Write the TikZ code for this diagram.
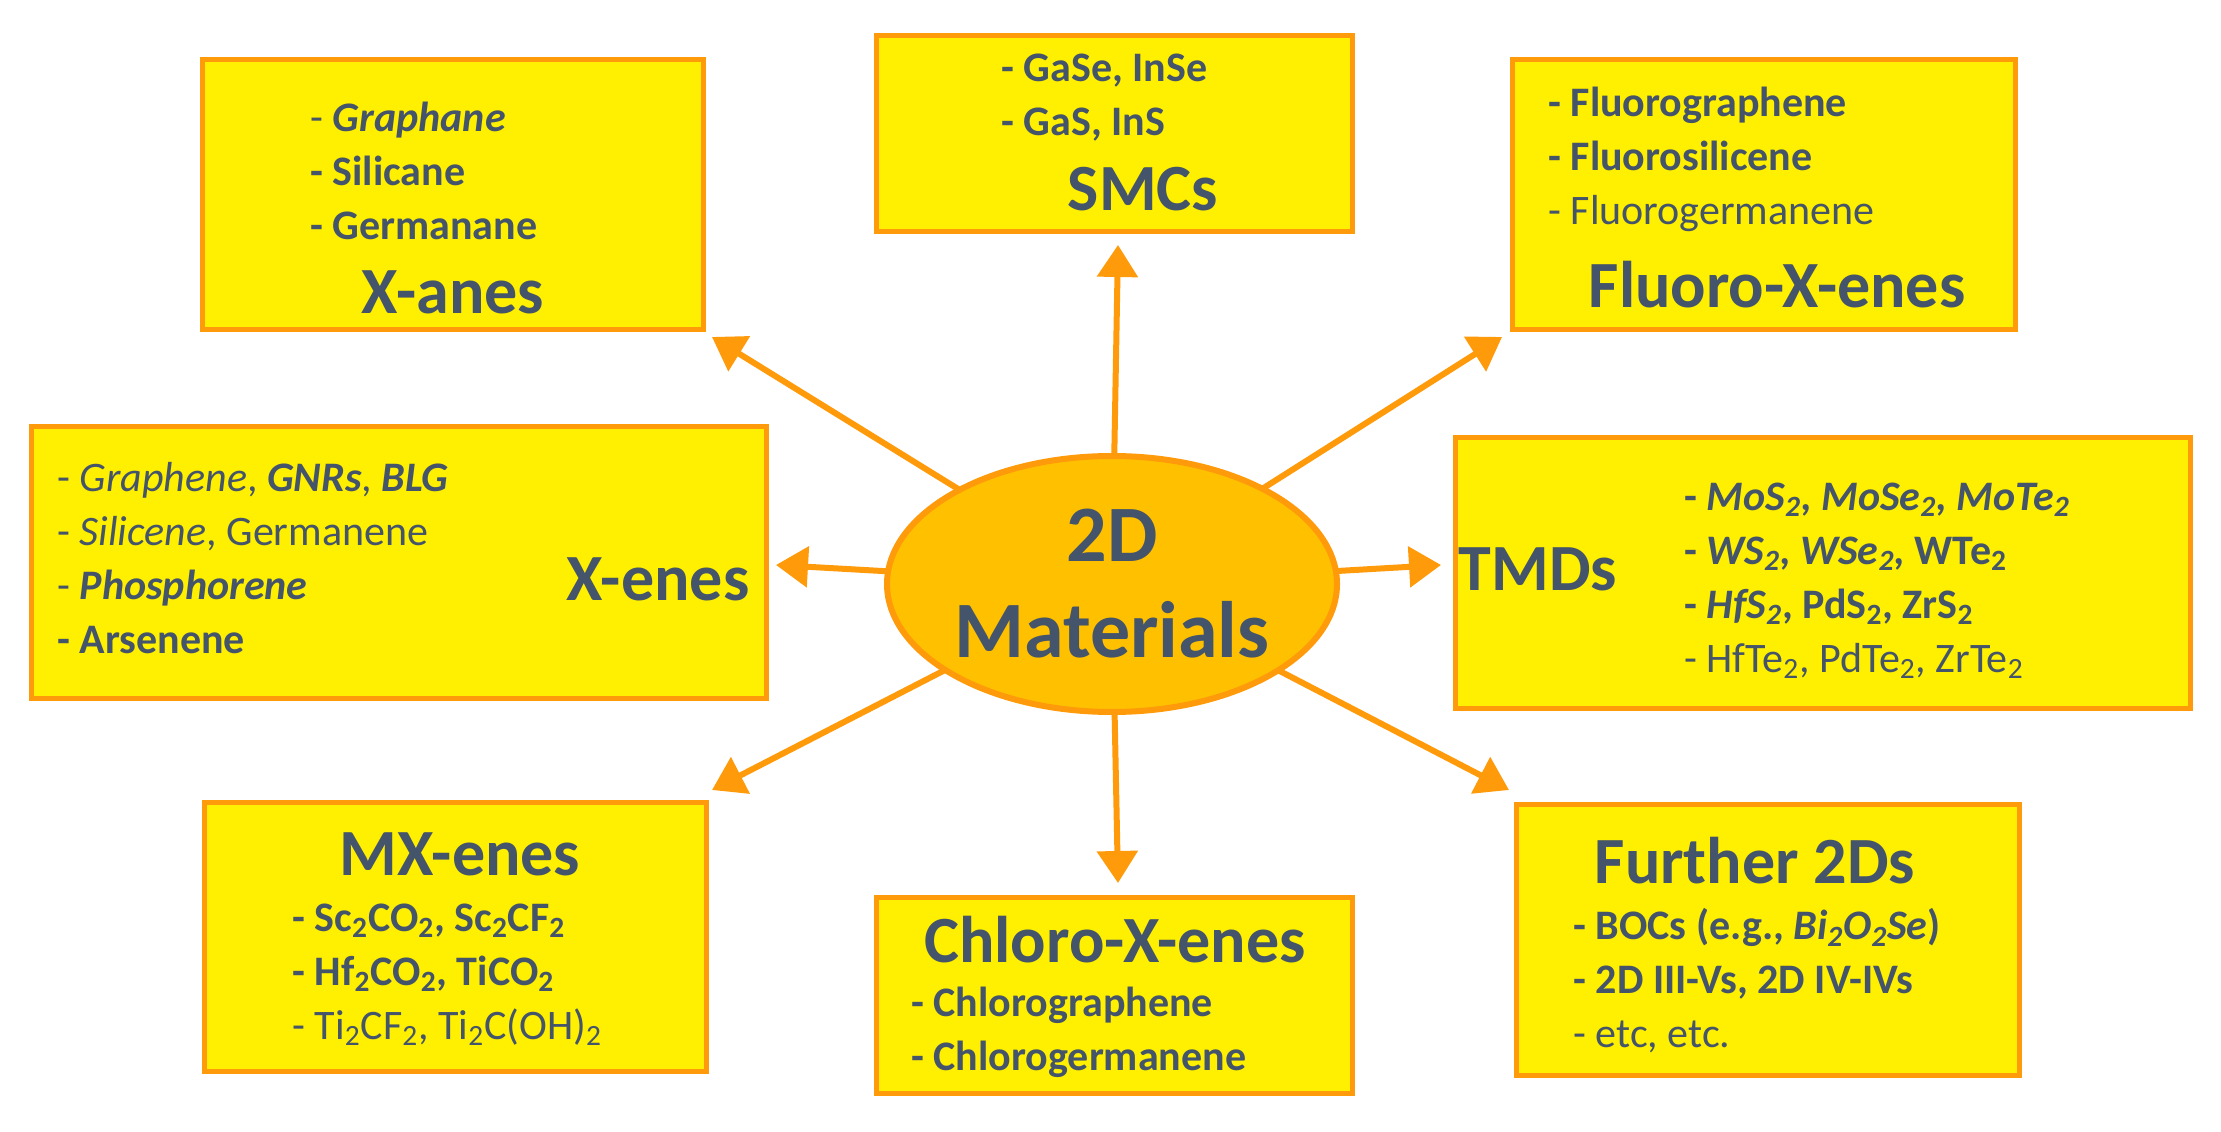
\documentclass[tikz,border=0pt]{standalone}
\usepackage{fontspec}
\setmainfont{Carlito}
\usetikzlibrary{shapes.geometric,arrows.meta}
\definecolor{txt}{HTML}{44546A}
\definecolor{ybox}{HTML}{FFEF00}
\definecolor{obord}{HTML}{FF9A0A}
\definecolor{ell}{HTML}{FFC000}
\tikzset{
 box/.style={draw=obord,fill=ybox,line width=2.5pt},
 arr/.style={draw=obord,line width=3pt,-{Triangle[length=16pt,width=20pt]}},
 lst/.style={anchor=west,align=left,text=txt,inner sep=0pt,font=\fontsize{21}{27}\selectfont},
 ttl/.style={text=txt,inner sep=0pt,font=\fontsize{33}{36}\selectfont\bfseries},
}
\newcommand{\sub}[1]{\textsubscript{#1}}
\begin{document}
\begin{tikzpicture}[x=0.5pt,y=0.5pt]
\useasboundingbox (0,0) rectangle (2221,1131);
% boxes
\draw[box] (202,801) rectangle (703,1071);
\draw[box] (876,899) rectangle (1352,1095);
\draw[box] (1512,801) rectangle (2015,1071);
\draw[box] (31,433) rectangle (766,704);
\draw[box] (1455,423) rectangle (2190,693);
\draw[box] (204,60) rectangle (706,329);
\draw[box] (876,38) rectangle (1352,234);
\draw[box] (1516,56) rectangle (2019,327);
% centre
\coordinate (t1) at (712,794);
\coordinate (t2) at (1118,886);
\coordinate (t3) at (1502,794);
\coordinate (t4) at (776,566);
\coordinate (t5) at (1441,566);
\coordinate (t6) at (712,341);
\coordinate (t7) at (1118,248);
\coordinate (t8) at (1509,341);
\node[ellipse,minimum width=225pt,minimum height=128pt,inner sep=0pt] (c) at (1112,547) {};
\foreach \t in {t1,t2,t3,t4,t5,t6,t7,t8} \draw[arr] (c) -- (\t);
\node[ellipse,draw=obord,fill=ell,line width=3pt,minimum width=225pt,minimum height=128pt,inner sep=0pt,align=center,text=txt,font=\fontsize{40}{48}\selectfont\bfseries] at (c) {2D\\Materials};
% X-anes
\node[lst] at (310,960) {- \textbf{\textit{Graphane}}\\ \textbf{- Silicane}\\ \textbf{- Germanane}};
\node[ttl] at (453,839) {X-anes};
% SMCs
\node[lst] at (1001,1033) {\textbf{- GaSe, InSe}\\ \textbf{- GaS, InS}};
\node[ttl] at (1143,942) {SMCs};
% Fluoro
\node[lst] at (1548,972) {\textbf{- Fluorographene}\\ \textbf{- Fluorosilicene}\\ - Fluorogermanene};
\node[ttl] at (1777,846) {Fluoro-X-enes};
% X-enes
\node[lst] at (57,573) {- \textit{Graphene}, \textbf{\textit{GNRs}}, \textbf{\textit{BLG}}\\ - \textit{Silicene}, Germanene\\ - \textbf{\textit{Phosphorene}}\\ \textbf{- Arsenene}};
\node[ttl] at (658,552) {X-enes};
% TMDs
\node[ttl] at (1538,562) {TMDs};
\node[lst] at (1684,550) {\textbf{- \textit{MoS\sub{2}, MoSe\sub{2}, MoTe\sub{2}}}\\ \textbf{- \textit{WS\sub{2}, WSe\sub{2},} WTe\sub{2}}\\ \textbf{- \textit{HfS\sub{2}}, PdS\sub{2}, ZrS\sub{2}}\\ - HfTe\sub{2}, PdTe\sub{2}, ZrTe\sub{2}};
% MX-enes
\node[ttl] at (460,277) {MX-enes};
\node[lst] at (292,156) {\textbf{- Sc\sub{2}CO\sub{2}, Sc\sub{2}CF\sub{2}}\\ \textbf{- Hf\sub{2}CO\sub{2}, TiCO\sub{2}}\\ - Ti\sub{2}CF\sub{2}, Ti\sub{2}C(OH)\sub{2}};
% Chloro
\node[ttl] at (1115,191) {Chloro-X-enes};
\node[lst] at (911,99) {\textbf{- Chlorographene}\\ \textbf{- Chlorogermanene}};
% Further
\node[ttl] at (1755,270) {Further 2Ds};
\node[lst] at (1573,150) {\textbf{- BOCs (e.g., \textit{Bi\sub{2}O\sub{2}Se})}\\ \textbf{- 2D III-Vs, 2D IV-IVs}\\ - etc, etc.};
\end{tikzpicture}
\end{document}
